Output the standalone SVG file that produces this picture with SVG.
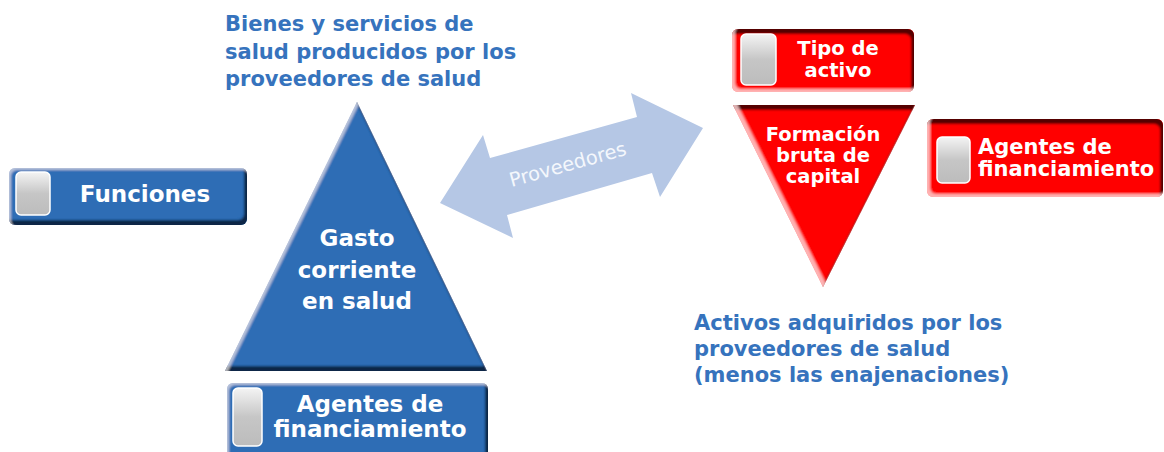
<svg xmlns="http://www.w3.org/2000/svg" width="1164" height="452" viewBox="0 0 1164 452">
<defs>
<style>
.white{fill:#ffffff;font-family:"DejaVu Sans","Liberation Sans",sans-serif;font-weight:bold;}
.title{fill:#3673bd;font-family:"DejaVu Sans","Liberation Sans",sans-serif;font-weight:bold;font-size:21px;}
.blue{fill:#2f6db5;}
.red{fill:#ff0000;}
.knob{fill:url(#gk);stroke:#ffffff;stroke-width:1.5;}
</style>
<linearGradient id="gk" x1="0" y1="0" x2="0" y2="1">
<stop offset="0" stop-color="#f4f4f4"/>
<stop offset="0.5" stop-color="#c6c6c6"/>
<stop offset="1" stop-color="#bcbcbc"/>
</linearGradient>
<filter id="bevB" x="-10%" y="-15%" width="120%" height="130%">
<feFlood flood-color="#0a1d38" flood-opacity="0.95" result="f1"/>
<feComposite in="f1" in2="SourceAlpha" operator="out" result="o1"/>
<feOffset in="o1" dx="-3" dy="-5" result="o1s"/>
<feGaussianBlur in="o1s" stdDeviation="1.3" result="o1b"/>
<feComposite in="o1b" in2="SourceAlpha" operator="in" result="dark"/>
<feFlood flood-color="#ffffff" flood-opacity="0.45" result="f2"/>
<feComposite in="f2" in2="SourceAlpha" operator="out" result="o2"/>
<feOffset in="o2" dx="2" dy="2" result="o2s"/>
<feGaussianBlur in="o2s" stdDeviation="1.3" result="o2b"/>
<feComposite in="o2b" in2="SourceAlpha" operator="in" result="light"/>
<feMerge><feMergeNode in="SourceGraphic"/><feMergeNode in="dark"/><feMergeNode in="light"/></feMerge>
</filter>
<filter id="bevR" x="-10%" y="-15%" width="120%" height="130%">
<feFlood flood-color="#3a0000" flood-opacity="0.95" result="f1"/>
<feComposite in="f1" in2="SourceAlpha" operator="out" result="o1"/>
<feOffset in="o1" dx="-3" dy="5" result="o1s"/>
<feGaussianBlur in="o1s" stdDeviation="1.3" result="o1b"/>
<feComposite in="o1b" in2="SourceAlpha" operator="in" result="dark"/>
<feFlood flood-color="#ffd0d0" flood-opacity="0.7" result="f2"/>
<feComposite in="f2" in2="SourceAlpha" operator="out" result="o2"/>
<feOffset in="o2" dx="3" dy="-3" result="o2s"/>
<feGaussianBlur in="o2s" stdDeviation="1.3" result="o2b"/>
<feComposite in="o2b" in2="SourceAlpha" operator="in" result="light"/>
<feMerge><feMergeNode in="SourceGraphic"/><feMergeNode in="dark"/><feMergeNode in="light"/></feMerge>
</filter>
</defs>
<rect width="1164" height="452" fill="#ffffff"/>

<g id="connectors">
<path d="M440,203 L483,135 L490,158 L637,117 L631,93 L703,128 L660,197 L652,173 L507,215 L513,238 Z" fill="#b5c7e5"/>
<text font-family="DejaVu Sans, Liberation Sans, sans-serif" font-size="19.5" text-anchor="middle" transform="translate(568,165) rotate(-15.6)" x="0" y="6" fill="#f4f7fc">Proveedores</text>
</g>

<g id="title-bienes">
<text class="title" x="225" y="31">Bienes y servicios de</text>
<text class="title" x="225" y="58.5">salud producidos por los</text>
<text class="title" x="225" y="86">proveedores de salud</text>
</g>

<g id="title-activos">
<text class="title" x="694" y="330">Activos adquiridos por los</text>
<text class="title" x="694" y="356">proveedores de salud</text>
<text class="title" x="694" y="382">(menos las enajenaciones)</text>
</g>

<g id="node-funciones">
<rect class="blue" x="9" y="168" width="238" height="57" rx="6" filter="url(#bevB)"/>
<rect class="knob" x="16" y="172" width="34" height="43" rx="5"/>
<text class="white" font-size="23" x="145" y="202" text-anchor="middle">Funciones</text>
</g>

<g id="node-gasto">
<path class="blue" d="M357,102 L487,371 L225,371 Z" filter="url(#bevB)"/>
<text class="white" font-size="23" text-anchor="middle" x="357" y="246">Gasto</text>
<text class="white" font-size="23" text-anchor="middle" x="357" y="278">corriente</text>
<text class="white" font-size="23" text-anchor="middle" x="357" y="309">en salud</text>
</g>

<g id="node-agentes-azul">
<rect class="blue" x="227" y="383" width="261" height="80" rx="6" filter="url(#bevB)"/>
<rect class="knob" x="233" y="388" width="29" height="58" rx="5"/>
<text class="white" font-size="23" text-anchor="middle" x="370" y="412">Agentes de</text>
<text class="white" font-size="23" text-anchor="middle" x="370" y="437">financiamiento</text>
</g>

<g id="node-tipo">
<rect class="red" x="732" y="29" width="182" height="63" rx="6" filter="url(#bevR)"/>
<rect class="knob" x="741" y="34" width="35" height="51" rx="5"/>
<text class="white" font-size="19.5" text-anchor="middle" x="838" y="55">Tipo de</text>
<text class="white" font-size="19.5" text-anchor="middle" x="838" y="77">activo</text>
</g>

<g id="node-formacion">
<path class="red" d="M733,105 L915,105 L823,287 Z" filter="url(#bevR)"/>
<text class="white" font-size="19.5" text-anchor="middle" x="823" y="141">Formación</text>
<text class="white" font-size="19.5" text-anchor="middle" x="823" y="162">bruta de</text>
<text class="white" font-size="19.5" text-anchor="middle" x="823" y="183">capital</text>
</g>

<g id="node-agentes-rojo">
<rect class="red" x="927" y="119" width="236" height="78" rx="6" filter="url(#bevR)"/>
<rect class="knob" x="937" y="137" width="33" height="46" rx="5"/>
<text class="white" font-size="21" x="978" y="154">Agentes de</text>
<text class="white" font-size="21" x="978" y="176">financiamiento</text>
</g>
</svg>
